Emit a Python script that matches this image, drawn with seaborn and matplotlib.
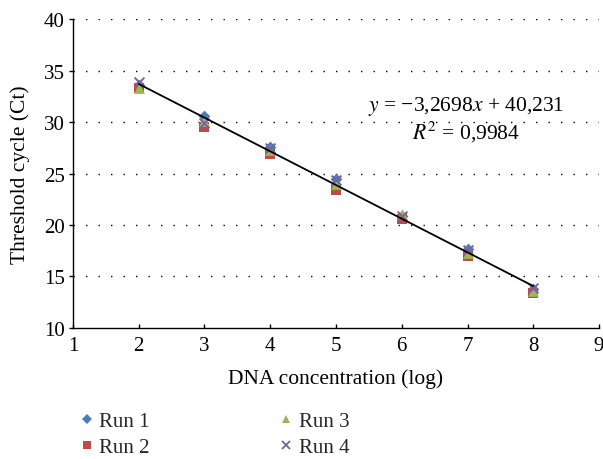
import matplotlib
matplotlib.use("Agg")
import matplotlib.pyplot as plt
import seaborn as sns
import pandas as pd
import numpy as np

concentrations = [2, 3, 4, 5, 6, 7, 8]
run1 = [33.6, 30.6, 27.6, 24.5, 20.9, 17.7, 13.8]
run2 = [33.3, 29.5, 26.9, 23.4, 20.6, 17.0, 13.4]
run3 = [33.3, 30.1, 27.3, 24.0, 21.1, 17.3, 13.6]
run4 = [33.9, 29.9, 27.5, 24.4, 20.9, 17.6, 13.9]
run_names = ["Run 1", "Run 2", "Run 3", "Run 4"]
slope = -3.2698
intercept = 40.231
r2_text = "0,9984"

sns.set_theme(style="white")
plt.rcParams["font.family"] = ["Liberation Serif", "DejaVu Serif"]
plt.rcParams["mathtext.fontset"] = "stix"

rows = []
for name, vals in zip(run_names, [run1, run2, run3, run4]):
    for c, v in zip(concentrations, vals):
        rows.append({"conc": c, "ct": v, "run": name})
df = pd.DataFrame(rows)

colors = {"Run 1": "#4A7EBB", "Run 2": "#BE4B48", "Run 3": "#98B954", "Run 4": "#7D60A0"}
markers = {"Run 1": "D", "Run 2": "s", "Run 3": "^", "Run 4": "x"}
sizes = {"Run 1": 36, "Run 2": 55, "Run 3": 60, "Run 4": 50}

FS = 15.5
TFS = 15

fig = plt.figure(figsize=(6.03, 4.6), dpi=100)
ax = fig.add_axes([0.121, 0.2848, 0.8724, 0.6717])

handles = []
for name in run_names:
    sub = df[df["run"] == name]
    if name == "Run 4":
        sns.scatterplot(data=sub, x="conc", y="ct", ax=ax, marker="x",
                        color=colors[name], s=sizes[name], linewidth=1.4, zorder=3, legend=False)
    else:
        sns.scatterplot(data=sub, x="conc", y="ct", ax=ax, marker=markers[name],
                        color=colors[name], s=sizes[name], linewidth=0, zorder=3, legend=False)
    h = plt.Line2D([], [], linestyle="none", marker=markers[name], color=colors[name],
                   markersize=6 if name != "Run 1" else 5,
                   markeredgewidth=1.3 if name == "Run 4" else 0)
    handles.append(h)

xs = np.array([min(concentrations), max(concentrations)])
fit = pd.DataFrame({"conc": xs, "ct": slope * xs + intercept})
sns.lineplot(data=fit, x="conc", y="ct", ax=ax, color="black", linewidth=1.3, zorder=4)

ax.set_xlim(1, 9)
ax.set_ylim(10, 40)
ax.set_xticks(range(1, 10))
ax.set_yticks(range(10, 41, 5))
for y in range(15, 41, 5):
    ax.axhline(y, color="black", linestyle=(0, (1, 8)), linewidth=1.0, zorder=1)

for s in ["top", "right"]:
    ax.spines[s].set_visible(False)
for s in ["left", "bottom"]:
    ax.spines[s].set_color("black")
    ax.spines[s].set_linewidth(1.0)

ax.tick_params(axis="x", direction="in", length=3, width=1, colors="black", labelsize=TFS, pad=6)
ax.tick_params(axis="y", direction="out", length=3, width=1, colors="black", labelsize=TFS, pad=3)
ax.tick_params(axis="x", which="both", bottom=True)
ax.tick_params(axis="y", which="both", left=True)

ax.set_xlabel("DNA concentration (log)", fontsize=FS, color="black", labelpad=9)
ax.set_ylabel("Threshold cycle (Ct)", fontsize=FS, color="black", labelpad=10)

ax.text(6.98, 31.6, "$y$ = \u22123,2698$x$ + 40,231", ha="center", va="center", fontsize=FS, color="black")
ax.text(6.98, 29.1, "$R^2$ = " + r2_text, ha="center", va="center", fontsize=FS, color="black")

leg = fig.legend(handles=handles, labels=run_names, ncol=2, frameon=False,
                 loc="center left", bbox_to_anchor=(0.108, 0.053), bbox_transform=fig.transFigure,
                 fontsize=TFS, handletextpad=0.15, columnspacing=6.1, labelspacing=0.3,
                 handlelength=0.9, borderpad=0.1)

fig.savefig("out.png", dpi=100)
